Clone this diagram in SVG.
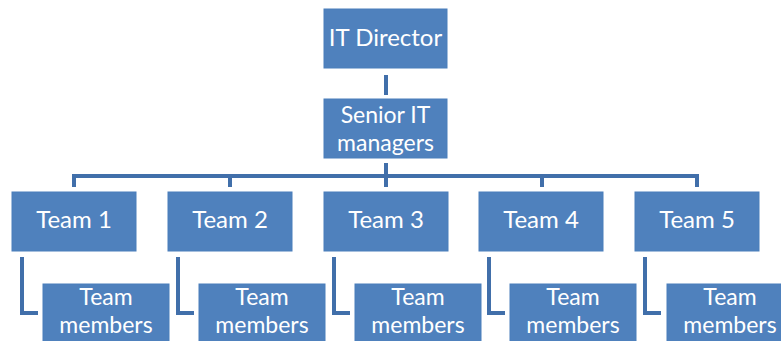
<svg xmlns="http://www.w3.org/2000/svg" width="781" height="341" viewBox="0 0 781 341">
  <style>
    .box { fill: #4F81BD; stroke: #4A7EBB; stroke-width: 1; }
    .lbl { fill: #ffffff; font-family: Lato, "Open Sans", "Liberation Sans", sans-serif; font-size: 24px; text-anchor: middle; }
    .two { font-size: 23px; }
    .wire { fill: none; stroke: #416FAA; stroke-width: 4; stroke-linejoin: miter; }
  </style>
  <rect width="781" height="341" fill="#ffffff"/>

  <!-- connectors -->
  <g id="connectors">
    <path class="wire" d="M386 75 V95"/>
    <path class="wire" d="M386 163 V187"/>
    <path class="wire" d="M74 187 V176 H697 V187"/>
    <path class="wire" d="M230 176 V187"/>
    <path class="wire" d="M542 176 V187"/>
    <path class="wire" d="M22 257 V313 H38"/>
    <path class="wire" d="M178 257 V313 H194"/>
    <path class="wire" d="M334 257 V313 H350"/>
    <path class="wire" d="M489 257 V313 H505"/>
    <path class="wire" d="M645 257 V313 H661"/>
  </g>

  <g id="it-director">
    <rect class="box" x="324" y="9" width="123" height="59"/>
    <text class="lbl" x="385.5" y="46">IT Director</text>
  </g>
  <g id="senior-it-managers">
    <rect class="box" x="324" y="99" width="123" height="59"/>
    <text class="lbl two" x="385.5" y="123">Senior IT</text>
    <text class="lbl two" x="385.5" y="151">managers</text>
  </g>

  <g id="team-1">
    <rect class="box" x="12" y="192" width="124" height="59"/>
    <text class="lbl" x="74" y="228">Team 1</text>
  </g>
  <g id="team-2">
    <rect class="box" x="168" y="192" width="124" height="59"/>
    <text class="lbl" x="230" y="228">Team 2</text>
  </g>
  <g id="team-3">
    <rect class="box" x="324" y="192" width="124" height="59"/>
    <text class="lbl" x="386" y="228">Team 3</text>
  </g>
  <g id="team-4">
    <rect class="box" x="479" y="192" width="124" height="59"/>
    <text class="lbl" x="541" y="228">Team 4</text>
  </g>
  <g id="team-5">
    <rect class="box" x="635" y="192" width="124" height="59"/>
    <text class="lbl" x="697" y="228">Team 5</text>
  </g>

  <g id="members-1">
    <rect class="box" x="43" y="284" width="126" height="62"/>
    <text class="lbl two" x="106" y="305">Team</text>
    <text class="lbl two" x="106" y="333">members</text>
  </g>
  <g id="members-2">
    <rect class="box" x="199" y="284" width="126" height="62"/>
    <text class="lbl two" x="262" y="305">Team</text>
    <text class="lbl two" x="262" y="333">members</text>
  </g>
  <g id="members-3">
    <rect class="box" x="355" y="284" width="126" height="62"/>
    <text class="lbl two" x="418" y="305">Team</text>
    <text class="lbl two" x="418" y="333">members</text>
  </g>
  <g id="members-4">
    <rect class="box" x="510" y="284" width="126" height="62"/>
    <text class="lbl two" x="573" y="305">Team</text>
    <text class="lbl two" x="573" y="333">members</text>
  </g>
  <g id="members-5">
    <rect class="box" x="667" y="284" width="126" height="62"/>
    <text class="lbl two" x="730" y="305">Team</text>
    <text class="lbl two" x="730" y="333">members</text>
  </g>
</svg>
